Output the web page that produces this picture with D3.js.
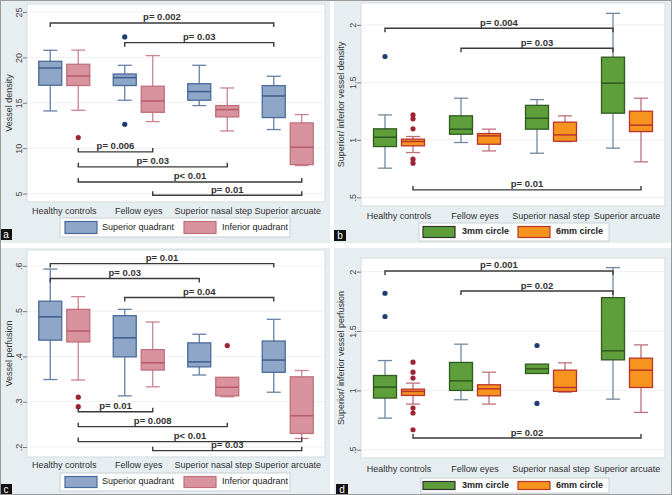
<!DOCTYPE html>
<html><head><meta charset="utf-8">
<script src="https://cdn.jsdelivr.net/npm/d3@7"></script>
<style>body{margin:0;background:#fff}svg{display:block;font-family:"Liberation Sans",Arial,sans-serif}</style>
</head><body>
<script>
// ---------- DATA ----------
const categories = ["Healthy controls","Fellow eyes","Superior nasal step","Superior arcuate"];
// box stats: [lower whisker, Q1, median, Q3, upper whisker]
const densitySuperior = [[14.1,16.93,18.83,19.57,20.78],[15.28,16.9,17.77,18.17,19.13],[14.69,15.28,16.23,17.1,19.13],[12.05,13.37,15.75,16.89,17.92]];
const densitySuperiorOutliers = [[],[22.25,12.63],[],[]];
const densityInferior = [[14.17,16.9,17.95,19.24,20.8],[12.93,13.95,15.2,16.82,20.2],[11.9,13.44,14.25,14.69,16.63],[8.08,8.19,10.1,12.78,13.7]];
const densityInferiorOutliers = [[11.17],[],[],[]];
const densityTicks = [5,10,15,20,25];
const densityTickLabels = ["5","10","15","20","25"];
// brackets: [fromCategory, fromSeries, toCategory, toSeries, value, label, side]
const densityBrackets = [[0,0,3,0,23.79,"p= 0.002","top"],[1,0,3,0,21.62,"p= 0.03","top"],[0,1,1,1,9.59,"p= 0.006","bottom"],[0,1,2,1,7.94,"p= 0.03","bottom"],[0,1,3,1,6.28,"p< 0.01","bottom"],[1,1,3,1,4.82,"p= 0.01","bottom"]];

const ratioDensity3mm = [[0.754,0.942,1.023,1.096,1.217],[0.977,1.049,1.093,1.209,1.362],[0.884,1.093,1.188,1.30,1.35],[0.928,1.232,1.493,1.719,2.10]];
const ratioDensity3mmOutliers = [[1.725],[],[],[]];
const ratioDensity6mm = [[0.89,0.948,0.986,1.006,1.029],[0.904,0.962,1.035,1.055,1.093],[0.985,0.988,1.043,1.154,1.209],[0.809,1.072,1.128,1.249,1.362]];
const ratioDensity6mmOutliers = [[1.217,1.183,1.096,0.832,0.797],[],[],[]];
const ratioTicks = [0.5,1,1.5,2];
const ratioTickLabels = [".5","1","1.5","2"];
const ratioDensityBrackets = [[0,0,3,0,1.971,"p= 0.004","top"],[1,0,3,0,1.797,"p= 0.03","top"],[0,1,3,1,0.565,"p= 0.01","bottom"]];

const perfusionSuperior = [[0.349,0.436,0.4875,0.522,0.593],[0.313,0.399,0.441,0.490,0.504],[0.359,0.377,0.388,0.430,0.449],[0.321,0.365,0.392,0.434,0.482]];
const perfusionSuperiorOutliers = [[],[],[],[]];
const perfusionInferior = [[0.348,0.432,0.456,0.504,0.532],[0.333,0.370,0.386,0.415,0.476],[0.311,0.313,0.332,0.354,0.354],[0.219,0.230,0.269,0.355,0.369]];
const perfusionInferiorOutliers = [[0.310,0.289],[],[0.424],[]];
const perfusionTicks = [0.2,0.3,0.4,0.5,0.6];
const perfusionTickLabels = [".2",".3",".4",".5",".6"];
const perfusionBrackets = [[0,0,3,0,0.605,"p= 0.01","top"],[0,0,2,0,0.572,"p= 0.03","top"],[1,0,3,0,0.530,"p= 0.04","top"],[0,1,1,1,0.278,"p= 0.01","bottom"],[0,1,2,1,0.245,"p= 0.008","bottom"],[0,1,3,1,0.212,"p< 0.01","bottom"],[1,1,3,1,0.192,"p= 0.03","bottom"]];

const ratioPerfusion3mm = [[0.766,0.935,1.027,1.125,1.251],[0.921,0.999,1.080,1.235,1.389],[1.142,1.142,1.181,1.221,1.221],[0.926,1.257,1.333,1.781,2.034]];
const ratioPerfusion3mmOutliers = [[1.818,1.622],[],[1.378,0.890],[]];
const ratioPerfusion6mm = [[0.884,0.957,0.991,1.010,1.061],[0.884,0.954,1.013,1.047,1.153],[0.985,0.991,1.024,1.170,1.232],[0.814,1.024,1.170,1.271,1.383]];
const ratioPerfusion6mmOutliers = [[1.237,1.153,1.103,0.851,0.809,0.668],[],[],[]];
const ratioPerfusionBrackets = [[0,0,3,0,2.006,"p= 0.001","top"],[1,0,3,0,1.837,"p= 0.02","top"],[0,1,3,1,0.598,"p= 0.02","bottom"]];

const quadrantNames = ["Superior quadrant","Inferior quadrant"];
const circleNames = ["3mm circle","6mm circle"];

// ---------- STYLES ----------
const blue = {fill:"#8ea6c8",stroke:"#4b6b98",median:"#3d5d8a",whisker:"#6580a6",dot:"#1f3d6e",legendStroke:"#4b6b98"};
const red = {fill:"#d8939e",stroke:"#c0707c",median:"#b55a68",whisker:"#c98490",dot:"#9c2434",legendStroke:"#c0707c"};
const green = {fill:"#5f9f3b",stroke:"#2f5a20",median:"#2f5a20",whisker:"#7189a0",dot:"#1f3d6e",legendStroke:"#333"};
const orange = {fill:"#f7931f",stroke:"#b8352b",median:"#b8352b",whisker:"#c0707c",dot:"#9c2434",legendStroke:"#b8352b"};

const panels = [
 {letter:"a",bg:[0,0,330,243],plot:{l:27,t:4,r:325,b:202},domain:[4.07,25.88],ticks:densityTicks,tickLabels:densityTickLabels,title:"Vessel density",titleX:10,
  series:[{stats:densitySuperior,out:densitySuperiorOutliers,style:blue},{stats:densityInferior,out:densityInferiorOutliers,style:red}],
  brackets:densityBrackets,xLabelY:212,legend:{x:60,y:218,w:230,h:19,sw:[65,184],tx:[102,222],bold:false},names:quadrantNames,label:[0,229]},
 {letter:"b",bg:[334,0,338,243],plot:{l:361,t:3,r:665,b:206},domain:[0.425,2.19],ticks:ratioTicks,tickLabels:ratioTickLabels,title:"Superior/ inferior vessel density",titleX:342,
  series:[{stats:ratioDensity3mm,out:ratioDensity3mmOutliers,style:green},{stats:ratioDensity6mm,out:ratioDensity6mmOutliers,style:orange}],
  brackets:ratioDensityBrackets,xLabelY:217,legend:{x:419,y:223,w:190,h:18,sw:[423,518],tx:[462,556],bold:true},names:circleNames,label:[334,230]},
 {letter:"c",bg:[0,248,330,247],plot:{l:27,t:250,r:325,b:457},domain:[0.178,0.635],ticks:perfusionTicks,tickLabels:perfusionTickLabels,title:"Vessel perfusion",titleX:10,
  series:[{stats:perfusionSuperior,out:perfusionSuperiorOutliers,style:blue},{stats:perfusionInferior,out:perfusionInferiorOutliers,style:red}],
  brackets:perfusionBrackets,xLabelY:466,legend:{x:60,y:473,w:230,h:18,sw:[65,184],tx:[102,222],bold:false},names:quadrantNames,label:[0,484]},
 {letter:"d",bg:[334,248,338,247],plot:{l:361,t:258,r:665,b:458},domain:[0.43,2.115],ticks:ratioTicks,tickLabels:ratioTickLabels,title:"Superior/ inferior vessel perfusion",titleX:342,
  series:[{stats:ratioPerfusion3mm,out:ratioPerfusion3mmOutliers,style:green},{stats:ratioPerfusion6mm,out:ratioPerfusion6mmOutliers,style:orange}],
  brackets:ratioPerfusionBrackets,xLabelY:470,legend:{x:421,y:478,w:188,h:15,sw:[423,518],tx:[462,556],bold:true},names:circleNames,label:[336,484]}
];

const svg = d3.select("body").append("svg").attr("width",672).attr("height",495);
svg.append("rect").attr("width",672).attr("height",495).attr("fill","#fff");

panels.forEach(p=>{
  const g = svg.append("g");
  g.append("rect").attr("x",p.bg[0]).attr("y",p.bg[1]).attr("width",p.bg[2]).attr("height",p.bg[3]).attr("fill","#e7eef2");
  const P = p.plot;
  g.append("rect").attr("x",P.l).attr("y",P.t).attr("width",P.r-P.l).attr("height",P.b-P.t).attr("fill","#fff").attr("stroke","#d3dbe0").attr("stroke-width",1);
  const y = d3.scaleLinear().domain(p.domain).range([P.b,P.t]);
  const x = d3.scaleBand().domain(categories).range([P.l,P.r]);
  const sub = d3.scaleBand().domain([0,1]).range([-28,28]);
  const pos = (c,s)=> x(categories[c]) + x.bandwidth()/2 + sub(s) + sub.bandwidth()/2;

  // gridlines
  g.selectAll(".grid").data(p.ticks).join("line")
    .attr("x1",P.l+1).attr("x2",P.r-1).attr("y1",d=>y(d)).attr("y2",d=>y(d))
    .attr("stroke","#edf0f2").attr("stroke-width",1);

  // y axis
  const ax = g.append("g").attr("transform",`translate(${P.l},0)`)
    .call(d3.axisLeft(y).tickValues(p.ticks).tickFormat((d,i)=>p.tickLabels[i]).tickSize(4).tickPadding(0));
  ax.select(".domain").remove();
  ax.selectAll(".tick line").attr("stroke","#777");
  ax.selectAll(".tick text").attr("transform","rotate(-90)").attr("x",0).attr("y",-5).attr("dy",0)
    .attr("text-anchor","middle").attr("font-size",9).attr("fill","#444").attr("font-family","Liberation Sans, Arial, sans-serif");

  g.append("text").attr("transform",`translate(${p.titleX},${(P.t+P.b)/2}) rotate(-90)`)
    .attr("text-anchor","middle").attr("dominant-baseline","middle").attr("font-size",9).attr("fill","#333").text(p.title);

  // x labels
  g.selectAll(".xl").data(categories).join("text")
    .attr("x",d=>x(d)+x.bandwidth()/2).attr("y",p.xLabelY).attr("text-anchor","middle").attr("dominant-baseline","middle")
    .attr("font-size",9).attr("fill","#2f2f2f").text(d=>d);

  // boxes
  const bw = 23, cap = 14;
  p.series.forEach((s,si)=>{
    const st = s.style;
    s.stats.forEach((b,ci)=>{
      const cx = pos(ci,si);
      const bg = g.append("g");
      bg.append("line").attr("x1",cx).attr("x2",cx).attr("y1",y(b[0])).attr("y2",y(b[1])).attr("stroke",st.whisker).attr("stroke-width",1.3);
      bg.append("line").attr("x1",cx).attr("x2",cx).attr("y1",y(b[3])).attr("y2",y(b[4])).attr("stroke",st.whisker).attr("stroke-width",1.3);
      if (b[0] < b[1]) bg.append("line").attr("x1",cx-cap/2).attr("x2",cx+cap/2).attr("y1",y(b[0])).attr("y2",y(b[0])).attr("stroke",st.whisker).attr("stroke-width",1.3);
      if (b[4] > b[3]) bg.append("line").attr("x1",cx-cap/2).attr("x2",cx+cap/2).attr("y1",y(b[4])).attr("y2",y(b[4])).attr("stroke",st.whisker).attr("stroke-width",1.3);
      bg.append("rect").attr("x",cx-bw/2).attr("y",y(b[3])).attr("width",bw).attr("height",Math.max(1,y(b[1])-y(b[3])))
        .attr("fill",st.fill).attr("stroke",st.stroke).attr("stroke-width",1.3);
      bg.append("line").attr("x1",cx-bw/2).attr("x2",cx+bw/2).attr("y1",y(b[2])).attr("y2",y(b[2])).attr("stroke",st.median).attr("stroke-width",1.5);
      bg.selectAll("circle").data(s.out[ci]).join("circle").attr("cx",cx).attr("cy",d=>y(d)).attr("r",2.6).attr("fill",st.dot);
    });
  });

  // brackets
  p.brackets.forEach(br=>{
    const x1 = pos(br[0],br[1]), x2 = pos(br[2],br[3]), yy = y(br[4]);
    const t = br[6]==="top" ? 4 : -4;
    g.append("path").attr("d",`M${x1},${yy+t}L${x1},${yy}L${x2},${yy}L${x2},${yy+t}`)
      .attr("fill","none").attr("stroke","#3a3a3a").attr("stroke-width",1.4);
    g.append("text").attr("x",(x1+x2)/2).attr("y",yy-5).attr("text-anchor","middle").attr("dominant-baseline","middle")
      .attr("font-size",9.5).attr("font-weight","bold").attr("fill","#333").text(br[5]);
  });

  // legend
  const L = p.legend;
  g.append("rect").attr("x",L.x).attr("y",L.y).attr("width",L.w).attr("height",L.h).attr("fill","#fff").attr("stroke","#c9d0d4");
  p.series.forEach((s,si)=>{
    g.append("rect").attr("x",L.sw[si]).attr("y",L.y+3.5).attr("width",32).attr("height",L.h-7)
      .attr("fill",s.style.fill).attr("stroke",s.style.legendStroke).attr("stroke-width",1.2);
    g.append("text").attr("x",L.tx[si]).attr("y",L.y+L.h/2).attr("dominant-baseline","middle").attr("font-size",9)
      .attr("font-weight",L.bold?"bold":"normal").attr("fill","#222").text(p.names[si]);
  });

  // panel letter
  g.append("rect").attr("x",p.label[0]).attr("y",p.label[1]).attr("width",12).attr("height",11).attr("fill","#111");
  g.append("text").attr("x",p.label[0]+6).attr("y",p.label[1]+6).attr("text-anchor","middle").attr("dominant-baseline","middle")
    .attr("font-size",10).attr("fill","#fff").text(p.letter);
});

svg.append("rect").attr("x",0.5).attr("y",0.5).attr("width",671).attr("height",494).attr("fill","none").attr("stroke","#9a9a9a").attr("stroke-width",1);
</script>
</body></html>
